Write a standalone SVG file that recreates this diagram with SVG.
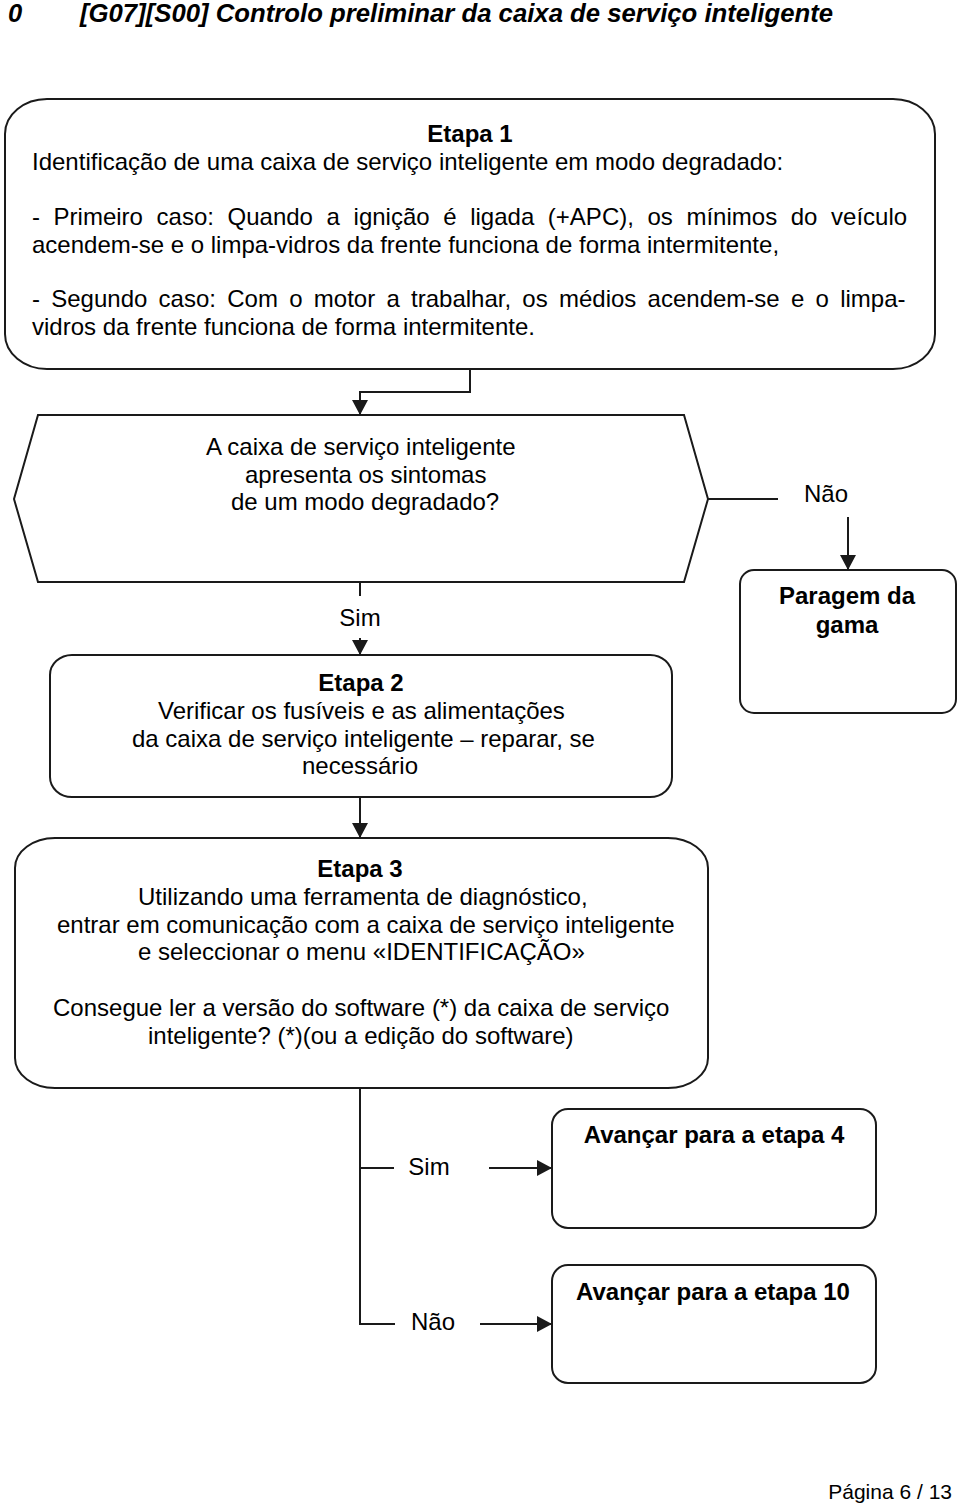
<svg xmlns="http://www.w3.org/2000/svg" width="960" height="1508" viewBox="0 0 960 1508">
<style>
  .box { fill: #ffffff; stroke: #1a1a1a; stroke-width: 2; }
  .ln { fill: none; stroke: #1a1a1a; stroke-width: 2; }
  .arr { marker-end: url(#ah); }
  text { font-family: "Liberation Sans", Arial, sans-serif; font-size: 24px; fill: #000; }
  .b { font-weight: bold; }
  .c { text-anchor: middle; }
</style>
<defs>
  <marker id="ah" markerUnits="userSpaceOnUse" viewBox="0 0 15 16" refX="15" refY="8" markerWidth="15" markerHeight="16" orient="auto">
    <path d="M0,0 L15,8 L0,16 Z" fill="#1a1a1a"/>
  </marker>
</defs>
<rect width="960" height="1508" fill="#ffffff"/>

<g id="title">
  <text x="8" y="22" class="b" style="font-style:italic;font-size:25.5px">0</text>
  <text x="80" y="22" class="b" style="font-style:italic;font-size:25.5px" textLength="753" lengthAdjust="spacingAndGlyphs">[G07][S00] Controlo preliminar da caixa de serviço inteligente</text>
</g>

<g id="etapa1">
  <rect class="box" x="5" y="99" width="930" height="270" rx="42" ry="35"/>
  <text x="470" y="142" class="b c">Etapa 1</text>
  <text x="32" y="170">Identificação de uma caixa de serviço inteligente em modo degradado:</text>
  <text x="32" y="225" style="word-spacing:6.95px">- Primeiro caso: Quando a ignição é ligada (+APC), os mínimos do veículo</text>
  <text x="32" y="253">acendem-se e o limpa-vidros da frente funciona de forma intermitente,</text>
  <text x="32" y="307" style="word-spacing:4.6px">- Segundo caso: Com o motor a trabalhar, os médios acendem-se e o limpa-</text>
  <text x="32" y="335">vidros da frente funciona de forma intermitente.</text>
</g>

<g id="decisao1">
  <path class="box" d="M38,415 H684 L708,499 L684,582 H38 L14,499 Z"/>
  <text x="206" y="455">A caixa de serviço inteligente</text>
  <text x="245" y="483">apresenta os sintomas</text>
  <text x="231" y="510">de um modo degradado?</text>
</g>

<g id="paragem">
  <rect class="box" x="740" y="570" width="216" height="143" rx="14" ry="14"/>
  <text x="847" y="604" class="b c">Paragem da</text>
  <text x="847" y="633" class="b c">gama</text>
</g>

<g id="etapa2">
  <rect class="box" x="50" y="655" width="622" height="142" rx="22" ry="20"/>
  <text x="361" y="691" class="b c">Etapa 2</text>
  <text x="158" y="719">Verificar os fusíveis e as alimentações</text>
  <text x="132" y="747">da caixa de serviço inteligente – reparar, se</text>
  <text x="360" y="774" class="c">necessário</text>
</g>

<g id="etapa3">
  <rect class="box" x="15" y="838" width="693" height="250" rx="40" ry="30"/>
  <text x="360" y="877" class="b c">Etapa 3</text>
  <text x="138" y="905">Utilizando uma ferramenta de diagnóstico,</text>
  <text x="57" y="933">entrar em comunicação com a caixa de serviço inteligente</text>
  <text x="138" y="960">e seleccionar o menu «IDENTIFICAÇÃO»</text>
  <text x="53" y="1016">Consegue ler a versão do software (*) da caixa de serviço</text>
  <text x="148" y="1044">inteligente? (*)(ou a edição do software)</text>
</g>

<g id="etapa4">
  <rect class="box" x="552" y="1109" width="324" height="119" rx="16" ry="16"/>
  <text x="714" y="1143" class="b c">Avançar para a etapa 4</text>
</g>

<g id="etapa10">
  <rect class="box" x="552" y="1265" width="324" height="118" rx="16" ry="16"/>
  <text x="713" y="1300" class="b c">Avançar para a etapa 10</text>
</g>

<g id="connectors">
  <polyline class="ln arr" points="470,369 470,392 360,392 360,415"/>
  <line class="ln" x1="708" y1="499" x2="778" y2="499"/>
  <text x="826" y="502" class="c">Não</text>
  <line class="ln arr" x1="848" y1="517" x2="848" y2="570"/>
  <line class="ln" x1="360" y1="582" x2="360" y2="596"/>
  <text x="360" y="626" class="c">Sim</text>
  <line class="ln arr" x1="360" y1="638" x2="360" y2="655"/>
  <line class="ln arr" x1="360" y1="797" x2="360" y2="838"/>
  <polyline class="ln" points="360,1088 360,1324 395,1324"/>
  <line class="ln" x1="360" y1="1168" x2="394" y2="1168"/>
  <text x="429" y="1175" class="c">Sim</text>
  <line class="ln arr" x1="489" y1="1168" x2="552" y2="1168"/>
  <text x="433" y="1330" class="c">Não</text>
  <line class="ln arr" x1="480" y1="1324" x2="552" y2="1324"/>
</g>

<g id="footer">
  <text x="952" y="1499" style="text-anchor:end;font-size:21px">Página 6 / 13</text>
</g>
</svg>
